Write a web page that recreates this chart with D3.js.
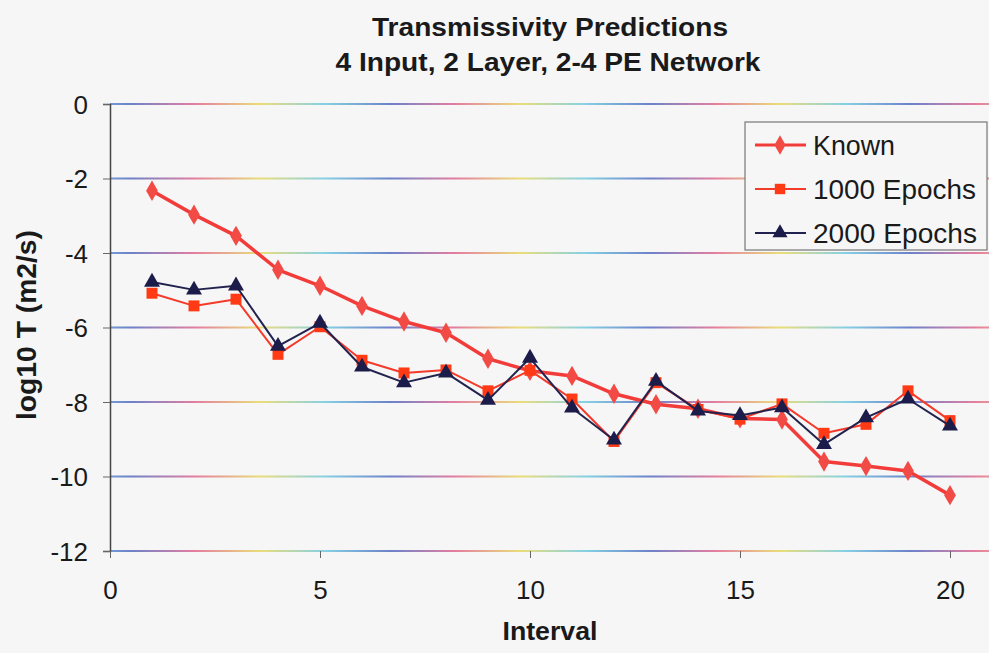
<!DOCTYPE html>
<html>
<head>
<meta charset="utf-8">
<script src="https://cdn.jsdelivr.net/npm/d3@7"></script>
<style>
  html, body { margin: 0; padding: 0; background: #f6f6f6; }
  svg { display: block; }
  text { font-family: "Liberation Sans", Arial, sans-serif; fill: #1a1a1a; }
</style>
</head>
<body>
<svg id="chart" width="989" height="653"></svg>
<script>
// Interval numbers along the x axis
const intervals = d3.range(1, 21);

// log10 transmissivity, known values
const known = [-2.33, -2.97, -3.54, -4.45, -4.88, -5.42, -5.84, -6.14, -6.84, -7.16,
               -7.30, -7.78, -8.06, -8.18, -8.44, -8.47, -9.60, -9.72, -9.85, -10.50];

// network predictions after 1000 epochs
const epochs1000 = [-5.08, -5.42, -5.24, -6.72, -5.98, -6.88, -7.22, -7.14, -7.70, -7.15,
                    -7.92, -9.06, -7.48, -8.20, -8.46, -8.05, -8.84, -8.60, -7.70, -8.50];

// network predictions after 2000 epochs
const epochs2000 = [-4.78, -4.99, -4.88, -6.50, -5.88, -7.06, -7.48, -7.22, -7.95, -6.82,
                    -8.16, -9.02, -7.44, -8.24, -8.36, -8.15, -9.14, -8.42, -7.92, -8.64];

const xTicks = [0, 5, 10, 15, 20];
const yTicks = [0, -2, -4, -6, -8, -10, -12];

const series = [
  { name: "Known",       values: known,      color: "#f23c3a", width: 3.5, symbol: d3.symbolDiamond,  size: 120, marker: "#f24a44", labelLen: 82 },
  { name: "1000 Epochs", values: epochs1000, color: "#f43a2a", width: 2,   symbol: d3.symbolSquare,   size: 120, marker: "#ff3a14", labelLen: 163 },
  { name: "2000 Epochs", values: epochs2000, color: "#22224e", width: 2,   symbol: d3.symbolTriangle, size: 110, marker: "#1c1c4a", labelLen: 164 }
];

const svg = d3.select("#chart");
const W = 989, H = 653;

const x = d3.scaleLinear().domain([0, 20]).range([110, 950]);
const y = d3.scaleLinear().domain([-12, 0]).range([551, 104]);

// plain hyphen-minus tick labels
const fmt = d => String(d);

// scanned-look gridline colouring
const defs = svg.append("defs");
const grad = defs.append("linearGradient")
  .attr("id", "gridGrad")
  .attr("gradientUnits", "userSpaceOnUse")
  .attr("x1", 0).attr("x2", 260).attr("y1", 0).attr("y2", 0)
  .attr("spreadMethod", "repeat");
[["0%", "#e8d85a"], ["25%", "#6ac8e0"], ["50%", "#4a66c0"], ["75%", "#e0608a"], ["100%", "#e8d85a"]]
  .forEach(([o, c]) => grad.append("stop").attr("offset", o).attr("stop-color", c));

// gridlines
svg.append("g")
  .selectAll("line")
  .data(yTicks)
  .join("line")
  .attr("x1", x(0)).attr("x2", W)
  .attr("y1", d => y(d)).attr("y2", d => y(d))
  .attr("stroke", "url(#gridGrad)")
  .attr("stroke-width", 1.8)
  .attr("opacity", 0.8);

// y axis
const yAxis = svg.append("g")
  .attr("transform", `translate(${x(0)},0)`)
  .call(d3.axisLeft(y).tickValues(yTicks).tickSize(7).tickFormat(fmt));
yAxis.select(".domain").attr("stroke", "#444").attr("stroke-width", 1.5);
yAxis.selectAll(".tick line").attr("stroke", "#666");
yAxis.selectAll(".tick text")
  .attr("x", -22).attr("dy", "0.36em")
  .style("font-size", "26px").style("font-family", "Liberation Sans, Arial, sans-serif")
  .attr("fill", "#1a1a1a");

// x axis
const xAxis = svg.append("g")
  .attr("transform", `translate(0,${y(-12)})`)
  .call(d3.axisBottom(x).tickValues(xTicks).tickSize(7).tickFormat(fmt));
xAxis.select(".domain").remove();
xAxis.selectAll(".tick line").attr("stroke", "#666");
xAxis.selectAll(".tick text")
  .attr("y", 30).attr("dy", "0.71em")
  .style("font-size", "26px").style("font-family", "Liberation Sans, Arial, sans-serif")
  .attr("fill", "#1a1a1a");

// titles
svg.append("text")
  .attr("x", 550).attr("y", 36)
  .attr("text-anchor", "middle")
  .attr("font-weight", "bold").attr("font-size", 26)
  .attr("textLength", 356).attr("lengthAdjust", "spacingAndGlyphs")
  .text("Transmissivity Predictions");
svg.append("text")
  .attr("x", 548).attr("y", 71)
  .attr("text-anchor", "middle")
  .attr("font-weight", "bold").attr("font-size", 26)
  .attr("textLength", 425).attr("lengthAdjust", "spacingAndGlyphs")
  .text("4 Input, 2 Layer, 2-4 PE Network");
svg.append("text")
  .attr("x", 550).attr("y", 640)
  .attr("text-anchor", "middle")
  .attr("font-weight", "bold").attr("font-size", 26)
  .attr("textLength", 95).attr("lengthAdjust", "spacingAndGlyphs")
  .text("Interval");
svg.append("text")
  .attr("transform", "translate(36,325) rotate(-90)")
  .attr("text-anchor", "middle")
  .attr("font-weight", "bold").attr("font-size", 27)
  .attr("textLength", 190).attr("lengthAdjust", "spacingAndGlyphs")
  .text("log10 T (m2/s)");

// series lines and markers
const line = d3.line()
  .x((d, i) => x(intervals[i]))
  .y(d => y(d));

series.forEach(s => {
  const g = svg.append("g");
  g.append("path")
    .datum(s.values)
    .attr("d", line)
    .attr("fill", "none")
    .attr("stroke", s.color)
    .attr("stroke-width", s.width)
    .attr("stroke-linejoin", "round");
  g.selectAll("path.mk")
    .data(s.values)
    .join("path")
    .attr("class", "mk")
    .attr("d", d3.symbol().type(s.symbol).size(s.size))
    .attr("transform", (d, i) => `translate(${x(intervals[i])},${y(d)})`)
    .attr("fill", s.marker);
});

// legend
const lg = svg.append("g");
lg.append("rect")
  .attr("x", 745).attr("y", 122).attr("width", 242).attr("height", 128)
  .attr("fill", "#f6f6f6").attr("stroke", "#777").attr("stroke-width", 1.2);
const legendRows = [145, 189, 233];
series.forEach((s, i) => {
  const yy = legendRows[i];
  lg.append("line")
    .attr("x1", 755).attr("x2", 806).attr("y1", yy).attr("y2", yy)
    .attr("stroke", s.color).attr("stroke-width", i === 0 ? 3 : 2);
  lg.append("path")
    .attr("d", d3.symbol().type(s.symbol).size(s.size * 0.9))
    .attr("transform", `translate(780,${yy})`)
    .attr("fill", s.marker);
  lg.append("text")
    .attr("x", 813).attr("y", yy + 10)
    .attr("font-size", 27)
    .attr("textLength", s.labelLen).attr("lengthAdjust", "spacingAndGlyphs")
    .text(s.name);
});
</script>
</body>
</html>
